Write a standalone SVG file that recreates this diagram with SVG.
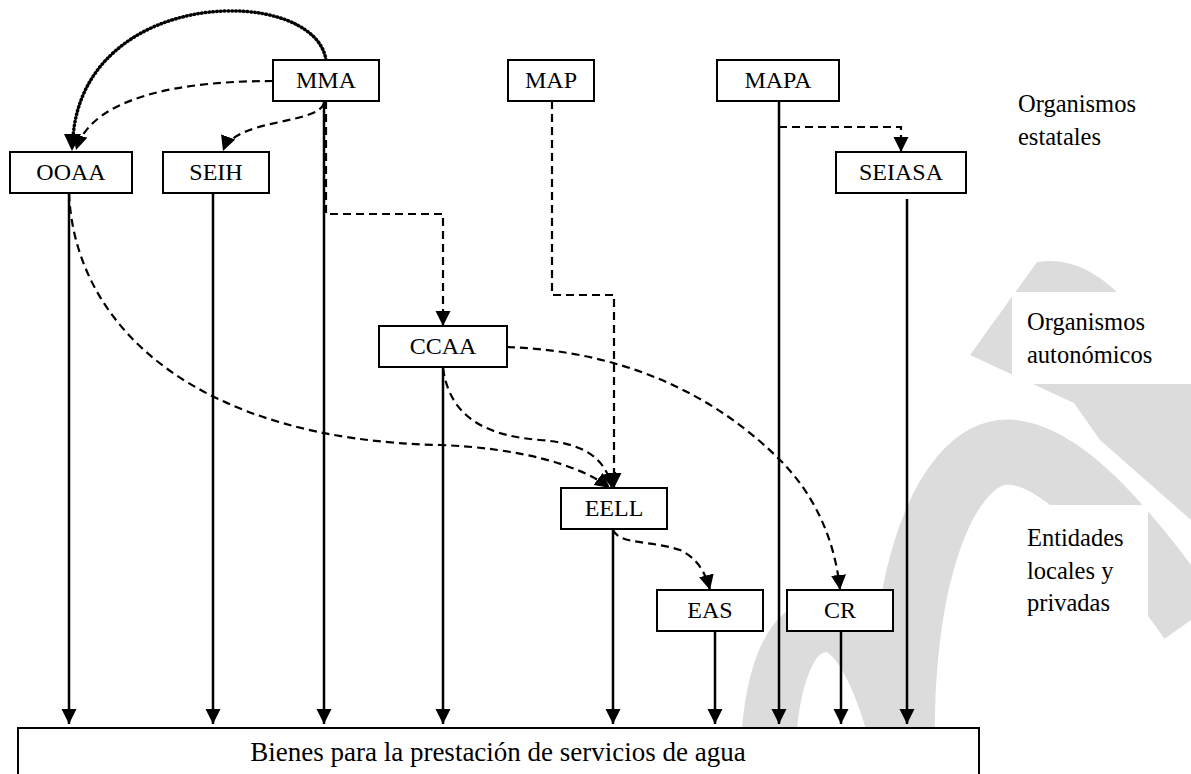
<svg xmlns="http://www.w3.org/2000/svg" width="1191" height="774" viewBox="0 0 1191 774">
<defs>
<marker id="ah" markerUnits="userSpaceOnUse" markerWidth="16" markerHeight="16" refX="15" refY="8" orient="auto" viewBox="0 0 16 16">
<path d="M0,0.5 L15,8 L0,15.5 z" fill="#000"/>
</marker>
<style>
.box{fill:#fff;stroke:#000;stroke-width:2}
.lbl{font-family:"Liberation Serif","Times New Roman",serif;font-size:24px;fill:#000}
.side{font-size:24.5px}
.solid{fill:none;stroke:#000;stroke-width:2.5}
.dash{fill:none;stroke:#000;stroke-width:2.2;stroke-dasharray:8 5}
.dot{fill:none;stroke:#000;stroke-width:3.5;stroke-dasharray:0.6 3.2;stroke-linecap:round}
.wm{fill:none;stroke:#dcdcdc}
</style>
</defs>
<rect width="1191" height="774" fill="#fff"/>
<g id="watermark">
<path class="wm" d="M768,790 C765,680 790,620 830,625 C865,630 890,700 910,790" stroke-width="55"/>
<path class="wm" d="M905,800 C890,600 940,450 1010,452 C1060,455 1120,520 1191,620" stroke-width="65"/>
<path d="M970,355 L1037,262 Q1080,255 1120,295 L1191,370 L1191,520 L1100,440 L1074,403 Z" fill="#dcdcdc"/>
<rect x="1012" y="292" width="179" height="92" fill="#fff"/>
<rect x="1012" y="505" width="136" height="118" fill="#fff"/>
</g>
<g id="connectors">
<path class="solid" d="M69,193 V724" marker-end="url(#ah)"/>
<path class="solid" d="M213,193 V724" marker-end="url(#ah)"/>
<path class="solid" d="M324,101 V724" marker-end="url(#ah)"/>
<path class="solid" d="M443,367 V724" marker-end="url(#ah)"/>
<path class="solid" d="M613,530 V724" marker-end="url(#ah)"/>
<path class="solid" d="M715,631 V724" marker-end="url(#ah)"/>
<path class="solid" d="M779,101 V724" marker-end="url(#ah)"/>
<path class="solid" d="M841,631 V724" marker-end="url(#ah)"/>
<path class="solid" d="M907,199 V724" marker-end="url(#ah)"/>
<path class="dot" d="M326,60 C315,-15 85,-15 73,137"/>
<path class="dash" d="M273,81 C150,81 88,108 76,150" marker-end="url(#ah)"/>
<path class="dash" d="M324,103 C318,125 235,118 223,151" marker-end="url(#ah)"/>
<path class="dash" d="M326,101 V214 H443 V326" marker-end="url(#ah)"/>
<path class="dash" d="M552,101 V295 H614 V488" marker-end="url(#ah)"/>
<path class="dash" d="M779,127 H901 V152" marker-end="url(#ah)"/>
<path class="dash" d="M69,193 C75,330 200,440 440,445 C520,448 580,465 610,488" marker-end="url(#ah)"/>
<path class="dash" d="M443,368 C450,420 490,436 540,440 C580,443 605,455 612,488" marker-end="url(#ah)"/>
<path class="dash" d="M507,347 C600,350 700,380 780,460 C815,495 835,540 840,590" marker-end="url(#ah)"/>
<path class="dash" d="M613,530 C620,545 650,540 680,550 C695,557 705,570 710,590" marker-end="url(#ah)"/>
<path d="M64,134 L81,134 L72,151 Z" fill="#000"/>
</g>
<g id="n-mma"><rect class="box" x="273" y="60" width="106" height="41"/><text class="lbl" x="326" y="88" text-anchor="middle">MMA</text></g>
<g id="n-map"><rect class="box" x="508" y="60" width="86" height="41"/><text class="lbl" x="551" y="88" text-anchor="middle">MAP</text></g>
<g id="n-mapa"><rect class="box" x="717" y="60" width="122" height="41"/><text class="lbl" x="778" y="88" text-anchor="middle">MAPA</text></g>
<g id="n-ooaa"><rect class="box" x="10" y="152" width="122" height="41"/><text class="lbl" x="71" y="180" text-anchor="middle">OOAA</text></g>
<g id="n-seih"><rect class="box" x="163" y="152" width="106" height="41"/><text class="lbl" x="216" y="180" text-anchor="middle">SEIH</text></g>
<g id="n-seiasa"><rect class="box" x="836" y="152" width="130" height="41"/><text class="lbl" x="901" y="180" text-anchor="middle">SEIASA</text></g>
<g id="n-ccaa"><rect class="box" x="379" y="326" width="128" height="41"/><text class="lbl" x="443" y="354" text-anchor="middle">CCAA</text></g>
<g id="n-eell"><rect class="box" x="561" y="488" width="106" height="41"/><text class="lbl" x="614" y="516" text-anchor="middle">EELL</text></g>
<g id="n-eas"><rect class="box" x="657" y="590" width="106" height="41"/><text class="lbl" x="710" y="618" text-anchor="middle">EAS</text></g>
<g id="n-cr"><rect class="box" x="787" y="590" width="106" height="41"/><text class="lbl" x="840" y="618" text-anchor="middle">CR</text></g>
<g id="n-bienes"><rect class="box" x="18" y="728" width="961" height="60"/><text class="lbl" x="498" y="761" text-anchor="middle" style="font-size:27px">Bienes para la prestación de servicios de agua</text></g>
<g id="labels">
<text class="lbl side" x="1018" y="112">Organismos</text>
<text class="lbl side" x="1018" y="145">estatales</text>
<text class="lbl side" x="1027" y="330">Organismos</text>
<text class="lbl side" x="1027" y="363">autonómicos</text>
<text class="lbl side" x="1027" y="546">Entidades</text>
<text class="lbl side" x="1027" y="579">locales y</text>
<text class="lbl side" x="1027" y="611">privadas</text>
</g>
</svg>
